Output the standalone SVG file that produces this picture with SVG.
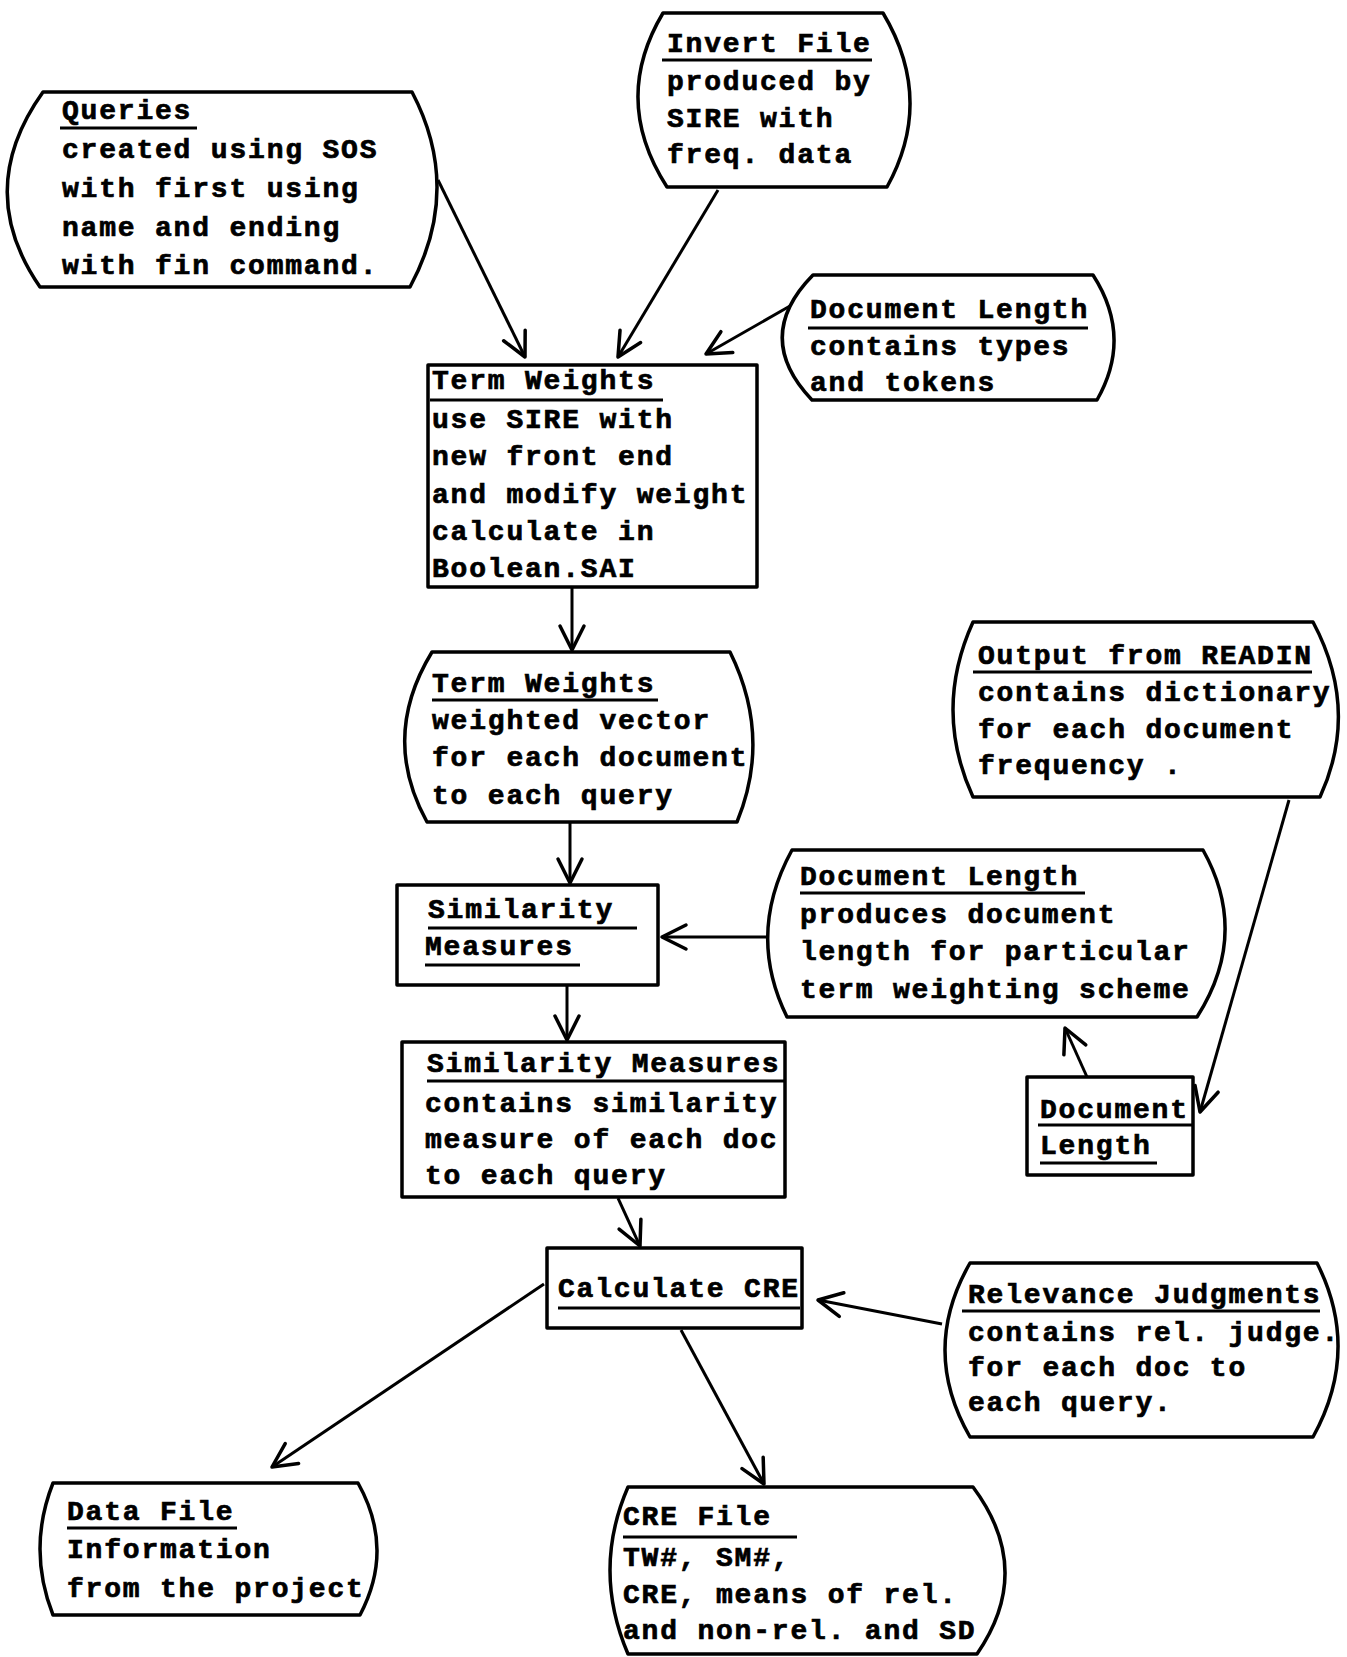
<svg xmlns="http://www.w3.org/2000/svg" width="1347" height="1657" viewBox="0 0 1347 1657">
<style>
.n{fill:none;stroke:#000;stroke-width:3.5;stroke-linejoin:round}
.u{stroke:#000;stroke-width:3}
.t{font-family:"Liberation Mono","DejaVu Sans Mono",monospace;font-weight:bold;font-size:28px;letter-spacing:1.8px;fill:#000;stroke:#000;stroke-width:0.7}
.c{fill:none;stroke:#000;stroke-width:3}
</style>
<defs>
<marker id="ah" markerUnits="userSpaceOnUse" markerWidth="40" markerHeight="40" refX="0" refY="0" viewBox="-30 -20 40 40" orient="auto">
<path d="M-24,-12 L0,0 L-24,12" fill="none" stroke="#000" stroke-width="3.5" stroke-linecap="round" stroke-linejoin="round"/>
</marker>
</defs>
<rect width="1347" height="1657" fill="#fff"/>

<g id="queries">
<path class="n" d="M43,92 L412,92 Q463,189 410,287 L40,287 Q-27,190 43,92 Z"/>
<text class="t" x="62" y="119">Queries</text>
<line class="u" x1="60" y1="128" x2="197" y2="128"/>
<text class="t" x="62" y="158">created using SOS</text>
<text class="t" x="62" y="197">with first using</text>
<text class="t" x="62" y="236">name and ending</text>
<text class="t" x="62" y="274">with fin command.</text>
</g>

<g id="invert-file">
<path class="n" d="M663,13 L883,13 Q935,100 887,187 L667,187 Q611,100 663,13 Z"/>
<text class="t" x="667" y="52">Invert File</text>
<line class="u" x1="662" y1="60" x2="872" y2="60"/>
<text class="t" x="667" y="90">produced by</text>
<text class="t" x="667" y="127">SIRE with</text>
<text class="t" x="667" y="163">freq. data</text>
</g>

<g id="doc-length-top">
<path class="n" d="M813,275 L1093,275 Q1133,337 1097,400 L812,400 Q752,337 813,275 Z"/>
<text class="t" x="810" y="318">Document Length</text>
<line class="u" x1="808" y1="328" x2="1088" y2="328"/>
<text class="t" x="810" y="355">contains types</text>
<text class="t" x="810" y="391">and tokens</text>
</g>

<g id="term-weights-1">
<rect class="n" x="428" y="365" width="329" height="222"/>
<text class="t" x="432" y="389">Term Weights</text>
<line class="u" x1="430" y1="400" x2="663" y2="400"/>
<text class="t" x="432" y="428">use SIRE with</text>
<text class="t" x="432" y="465">new front end</text>
<text class="t" x="432" y="503">and modify weight</text>
<text class="t" x="432" y="540">calculate in</text>
<text class="t" x="432" y="577">Boolean.SAI</text>
</g>

<g id="term-weights-2">
<path class="n" d="M432,652 L730,652 Q772,737 737,822 L427,822 Q380,737 432,652 Z"/>
<text class="t" x="432" y="692">Term Weights</text>
<line class="u" x1="432" y1="700" x2="658" y2="700"/>
<text class="t" x="432" y="729">weighted vector</text>
<text class="t" x="432" y="766">for each document</text>
<text class="t" x="432" y="804">to each query</text>
</g>

<g id="similarity-measures">
<rect class="n" x="397" y="885" width="261" height="100"/>
<text class="t" x="428" y="918">Similarity</text>
<line class="u" x1="428" y1="928" x2="637" y2="928"/>
<text class="t" x="425" y="955">Measures</text>
<line class="u" x1="425" y1="965" x2="580" y2="965"/>
</g>

<g id="similarity-measures-2">
<rect class="n" x="402" y="1042" width="383" height="155"/>
<text class="t" x="427" y="1072">Similarity Measures</text>
<line class="u" x1="427" y1="1081" x2="785" y2="1081"/>
<text class="t" x="425" y="1112">contains similarity</text>
<text class="t" x="425" y="1148">measure of each doc</text>
<text class="t" x="425" y="1184">to each query</text>
</g>

<g id="doc-length-mid">
<path class="n" d="M792,850 L1203,850 Q1250,934 1197,1017 L787,1017 Q746,934 792,850 Z"/>
<text class="t" x="800" y="885">Document Length</text>
<line class="u" x1="800" y1="893" x2="1085" y2="893"/>
<text class="t" x="800" y="923">produces document</text>
<text class="t" x="800" y="960">length for particular</text>
<text class="t" x="800" y="998">term weighting scheme</text>
</g>

<g id="doc-length-small">
<rect class="n" x="1027" y="1077" width="166" height="98"/>
<text class="t" x="1040" y="1118">Document</text>
<line class="u" x1="1038" y1="1125" x2="1193" y2="1125"/>
<text class="t" x="1040" y="1154">Length</text>
<line class="u" x1="1040" y1="1163" x2="1157" y2="1163"/>
</g>

<g id="output-readin">
<path class="n" d="M973,622 L1313,622 Q1360,710 1320,797 L973,797 Q933,710 973,622 Z"/>
<text class="t" x="978" y="664">Output from READIN</text>
<line class="u" x1="973" y1="672" x2="1312" y2="672"/>
<text class="t" x="978" y="701">contains dictionary</text>
<text class="t" x="978" y="738">for each document</text>
<text class="t" x="978" y="774">frequency .</text>
</g>

<g id="calculate-cre">
<rect class="n" x="547" y="1248" width="255" height="80"/>
<text class="t" x="558" y="1297">Calculate CRE</text>
<line class="u" x1="558" y1="1308" x2="800" y2="1308"/>
</g>

<g id="relevance-judgments">
<path class="n" d="M970,1263 L1317,1263 Q1361,1350 1313,1437 L970,1437 Q920,1350 970,1263 Z"/>
<text class="t" x="968" y="1303">Relevance Judgments</text>
<line class="u" x1="962" y1="1311" x2="1320" y2="1311"/>
<text class="t" x="968" y="1341">contains rel. judge.</text>
<text class="t" x="968" y="1376">for each doc to</text>
<text class="t" x="968" y="1411">each query.</text>
</g>

<g id="data-file">
<path class="n" d="M53,1483 L358,1483 Q395,1549 360,1615 L53,1615 Q27,1549 53,1483 Z"/>
<text class="t" x="67" y="1520">Data File</text>
<line class="u" x1="67" y1="1528" x2="237" y2="1528"/>
<text class="t" x="67" y="1558">Information</text>
<text class="t" x="67" y="1597">from the project</text>
</g>

<g id="cre-file">
<path class="n" d="M628,1487 L973,1487 Q1035,1570 977,1654 L628,1654 Q592,1570 628,1487 Z"/>
<text class="t" x="623" y="1525">CRE File</text>
<line class="u" x1="623" y1="1537" x2="797" y2="1537"/>
<text class="t" x="623" y="1566">TW#, SM#,</text>
<text class="t" x="623" y="1603">CRE, means of rel.</text>
<text class="t" x="623" y="1639">and non-rel. and SD</text>
</g>

<g id="connectors">
<line class="c" x1="438" y1="180" x2="525" y2="357" marker-end="url(#ah)"/>
<line class="c" x1="718" y1="190" x2="618" y2="357" marker-end="url(#ah)"/>
<line class="c" x1="790" y1="306" x2="706" y2="354" marker-end="url(#ah)"/>
<line class="c" x1="572" y1="587" x2="572" y2="650" marker-end="url(#ah)"/>
<line class="c" x1="570" y1="823" x2="570" y2="883" marker-end="url(#ah)"/>
<line class="c" x1="766" y1="937" x2="662" y2="937" marker-end="url(#ah)"/>
<line class="c" x1="567" y1="985" x2="567" y2="1040" marker-end="url(#ah)"/>
<line class="c" x1="618" y1="1198" x2="640" y2="1246" marker-end="url(#ah)"/>
<line class="c" x1="942" y1="1324" x2="818" y2="1300" marker-end="url(#ah)"/>
<line class="c" x1="544" y1="1284" x2="272" y2="1467" marker-end="url(#ah)"/>
<line class="c" x1="681" y1="1330" x2="764" y2="1484" marker-end="url(#ah)"/>
<line class="c" x1="1087" y1="1077" x2="1065" y2="1028" marker-end="url(#ah)"/>
<line class="c" x1="1289" y1="800" x2="1200" y2="1112" marker-end="url(#ah)"/>
</g>
</svg>
